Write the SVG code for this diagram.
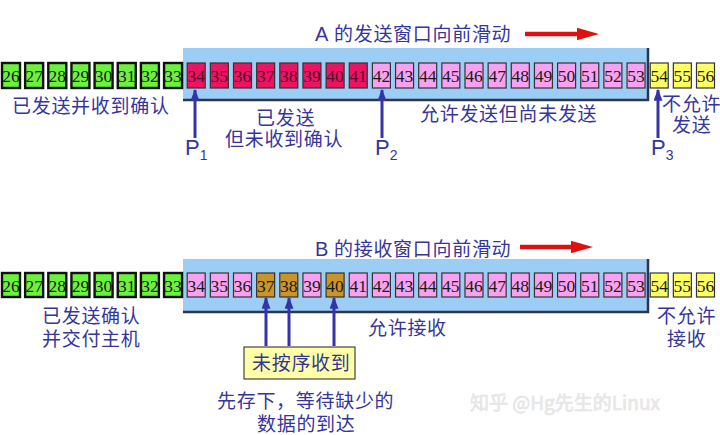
<svg xmlns="http://www.w3.org/2000/svg" width="720" height="435" viewBox="0 0 720 435">
<style>
.cjk{font-family:"Noto Sans CJK SC","Liberation Sans",sans-serif;font-size:19px;fill:#36369a;letter-spacing:0.7px}
.lat{font-family:"Liberation Sans","Noto Sans",sans-serif;fill:#36369a}
.num{font-family:"Liberation Serif",serif;font-size:17.5px;fill:#1a1a1a;text-anchor:middle}
.g rect{fill:#6cf23c;stroke:#111;stroke-width:2.4}
.r rect{fill:#ea1462;stroke:#333;stroke-width:1.2}
.r text{fill:#5a0a2a}
.p rect{fill:#f7a2f0;stroke:#333;stroke-width:1.2}
.y rect{fill:#ffff66;stroke:#333;stroke-width:1.2}
.b rect{fill:#c9952b;stroke:#333;stroke-width:1.2}
.win{fill:#9ccdf5}
.shadow{fill:none;stroke:#2a3550;stroke-width:2.5}
.ptr{stroke:#3434a8;stroke-width:3;fill:none}
.red{stroke:#e01010;stroke-width:4.5;fill:none}
</style>
<defs>
<marker id="ah" viewBox="0 0 10 10" refX="9" refY="5" markerWidth="4" markerHeight="3" orient="auto" markerUnits="strokeWidth" preserveAspectRatio="none"><path d="M0,0 L10,5 L0,10 z" fill="#3434a8"/></marker>
<marker id="ahr" viewBox="0 0 10 10" refX="1" refY="5" markerWidth="5" markerHeight="2.8" orient="auto" markerUnits="strokeWidth" preserveAspectRatio="none"><path d="M0,0 L10,5 L0,10 z" fill="#e01010"/></marker>
</defs>
<rect width="720" height="435" fill="#ffffff"/>

<!-- ===== Top: sender window ===== -->
<g id="windowA">
<rect class="win" x="183" y="48" width="465" height="52"/>
<path class="shadow" d="M648,48 V100 H183"/>
</g>
<g id="titleA">
<text class="lat" x="315" y="41" font-size="20">A</text>
<text class="cjk" x="334" y="41">的发送窗口向前滑动</text>
</g>

<g id="rowA">
<g id="a26" class="g"><rect x="2" y="63" width="18" height="25"/><text class="num" x="11" y="81.5">26</text></g>
<g id="a27" class="g"><rect x="25.15" y="63" width="18" height="25"/><text class="num" x="34.15" y="81.5">27</text></g>
<g id="a28" class="g"><rect x="48.3" y="63" width="18" height="25"/><text class="num" x="57.3" y="81.5">28</text></g>
<g id="a29" class="g"><rect x="71.45" y="63" width="18" height="25"/><text class="num" x="80.45" y="81.5">29</text></g>
<g id="a30" class="g"><rect x="94.6" y="63" width="18" height="25"/><text class="num" x="103.6" y="81.5">30</text></g>
<g id="a31" class="g"><rect x="117.75" y="63" width="18" height="25"/><text class="num" x="126.75" y="81.5">31</text></g>
<g id="a32" class="g"><rect x="140.9" y="63" width="18" height="25"/><text class="num" x="149.9" y="81.5">32</text></g>
<g id="a33" class="g"><rect x="164.05" y="63" width="18" height="25"/><text class="num" x="173.05" y="81.5">33</text></g>
<g id="a34" class="r"><rect x="187.2" y="63" width="18" height="25"/><text class="num" x="196.2" y="81.5">34</text></g>
<g id="a35" class="r"><rect x="210.35" y="63" width="18" height="25"/><text class="num" x="219.35" y="81.5">35</text></g>
<g id="a36" class="r"><rect x="233.5" y="63" width="18" height="25"/><text class="num" x="242.5" y="81.5">36</text></g>
<g id="a37" class="r"><rect x="256.65" y="63" width="18" height="25"/><text class="num" x="265.65" y="81.5">37</text></g>
<g id="a38" class="r"><rect x="279.8" y="63" width="18" height="25"/><text class="num" x="288.8" y="81.5">38</text></g>
<g id="a39" class="r"><rect x="302.95" y="63" width="18" height="25"/><text class="num" x="311.95" y="81.5">39</text></g>
<g id="a40" class="r"><rect x="326.1" y="63" width="18" height="25"/><text class="num" x="335.1" y="81.5">40</text></g>
<g id="a41" class="r"><rect x="349.25" y="63" width="18" height="25"/><text class="num" x="358.25" y="81.5">41</text></g>
<g id="a42" class="p"><rect x="372.4" y="63" width="18" height="25"/><text class="num" x="381.4" y="81.5">42</text></g>
<g id="a43" class="p"><rect x="395.55" y="63" width="18" height="25"/><text class="num" x="404.55" y="81.5">43</text></g>
<g id="a44" class="p"><rect x="418.7" y="63" width="18" height="25"/><text class="num" x="427.7" y="81.5">44</text></g>
<g id="a45" class="p"><rect x="441.85" y="63" width="18" height="25"/><text class="num" x="450.85" y="81.5">45</text></g>
<g id="a46" class="p"><rect x="465" y="63" width="18" height="25"/><text class="num" x="474" y="81.5">46</text></g>
<g id="a47" class="p"><rect x="488.15" y="63" width="18" height="25"/><text class="num" x="497.15" y="81.5">47</text></g>
<g id="a48" class="p"><rect x="511.3" y="63" width="18" height="25"/><text class="num" x="520.3" y="81.5">48</text></g>
<g id="a49" class="p"><rect x="534.45" y="63" width="18" height="25"/><text class="num" x="543.45" y="81.5">49</text></g>
<g id="a50" class="p"><rect x="557.6" y="63" width="18" height="25"/><text class="num" x="566.6" y="81.5">50</text></g>
<g id="a51" class="p"><rect x="580.75" y="63" width="18" height="25"/><text class="num" x="589.75" y="81.5">51</text></g>
<g id="a52" class="p"><rect x="603.9" y="63" width="18" height="25"/><text class="num" x="612.9" y="81.5">52</text></g>
<g id="a53" class="p"><rect x="627.05" y="63" width="18" height="25"/><text class="num" x="636.05" y="81.5">53</text></g>
<g id="a54" class="y"><rect x="650.2" y="63" width="18" height="25"/><text class="num" x="659.2" y="81.5">54</text></g>
<g id="a55" class="y"><rect x="673.35" y="63" width="18" height="25"/><text class="num" x="682.35" y="81.5">55</text></g>
<g id="a56" class="y"><rect x="696.5" y="63" width="18" height="25"/><text class="num" x="705.5" y="81.5">56</text></g>
</g>

<g id="labelsA">
<text class="cjk" x="12" y="113">已发送并收到确认</text>
<text class="cjk"><tspan x="256" y="125">已发送</tspan><tspan x="225" y="146">但未收到确认</tspan></text>
<text class="cjk" x="420" y="121">允许发送但尚未发送</text>
<text class="cjk"><tspan x="662" y="111">不允许</tspan><tspan x="672" y="132">发送</tspan></text>
</g>
<g id="P1"><text class="lat" x="185" y="155" font-size="22">P<tspan font-size="14" dy="5">1</tspan></text></g>
<g id="P2"><text class="lat" x="375" y="155" font-size="22">P<tspan font-size="14" dy="5">2</tspan></text></g>
<g id="P3"><text class="lat" x="651" y="155" font-size="22">P<tspan font-size="14" dy="5">3</tspan></text></g>

<!-- ===== Bottom: receiver window ===== -->
<g id="windowB">
<rect class="win" x="183" y="259" width="465" height="53"/>
<path class="shadow" d="M648,259 V312 H183"/>
</g>
<g id="titleB">
<text class="lat" x="315" y="256" font-size="20">B</text>
<text class="cjk" x="334" y="256">的接收窗口向前滑动</text>
</g>

<g id="rowB">
<g id="b26" class="g"><rect x="2" y="273" width="18" height="24"/><text class="num" x="11" y="291.5">26</text></g>
<g id="b27" class="g"><rect x="25.15" y="273" width="18" height="24"/><text class="num" x="34.15" y="291.5">27</text></g>
<g id="b28" class="g"><rect x="48.3" y="273" width="18" height="24"/><text class="num" x="57.3" y="291.5">28</text></g>
<g id="b29" class="g"><rect x="71.45" y="273" width="18" height="24"/><text class="num" x="80.45" y="291.5">29</text></g>
<g id="b30" class="g"><rect x="94.6" y="273" width="18" height="24"/><text class="num" x="103.6" y="291.5">30</text></g>
<g id="b31" class="g"><rect x="117.75" y="273" width="18" height="24"/><text class="num" x="126.75" y="291.5">31</text></g>
<g id="b32" class="g"><rect x="140.9" y="273" width="18" height="24"/><text class="num" x="149.9" y="291.5">32</text></g>
<g id="b33" class="g"><rect x="164.05" y="273" width="18" height="24"/><text class="num" x="173.05" y="291.5">33</text></g>
<g id="b34" class="p"><rect x="187.2" y="273" width="18" height="24"/><text class="num" x="196.2" y="291.5">34</text></g>
<g id="b35" class="p"><rect x="210.35" y="273" width="18" height="24"/><text class="num" x="219.35" y="291.5">35</text></g>
<g id="b36" class="p"><rect x="233.5" y="273" width="18" height="24"/><text class="num" x="242.5" y="291.5">36</text></g>
<g id="b37" class="b"><rect x="256.65" y="273" width="18" height="24"/><text class="num" x="265.65" y="291.5">37</text></g>
<g id="b38" class="b"><rect x="279.8" y="273" width="18" height="24"/><text class="num" x="288.8" y="291.5">38</text></g>
<g id="b39" class="p"><rect x="302.95" y="273" width="18" height="24"/><text class="num" x="311.95" y="291.5">39</text></g>
<g id="b40" class="b"><rect x="326.1" y="273" width="18" height="24"/><text class="num" x="335.1" y="291.5">40</text></g>
<g id="b41" class="p"><rect x="349.25" y="273" width="18" height="24"/><text class="num" x="358.25" y="291.5">41</text></g>
<g id="b42" class="p"><rect x="372.4" y="273" width="18" height="24"/><text class="num" x="381.4" y="291.5">42</text></g>
<g id="b43" class="p"><rect x="395.55" y="273" width="18" height="24"/><text class="num" x="404.55" y="291.5">43</text></g>
<g id="b44" class="p"><rect x="418.7" y="273" width="18" height="24"/><text class="num" x="427.7" y="291.5">44</text></g>
<g id="b45" class="p"><rect x="441.85" y="273" width="18" height="24"/><text class="num" x="450.85" y="291.5">45</text></g>
<g id="b46" class="p"><rect x="465" y="273" width="18" height="24"/><text class="num" x="474" y="291.5">46</text></g>
<g id="b47" class="p"><rect x="488.15" y="273" width="18" height="24"/><text class="num" x="497.15" y="291.5">47</text></g>
<g id="b48" class="p"><rect x="511.3" y="273" width="18" height="24"/><text class="num" x="520.3" y="291.5">48</text></g>
<g id="b49" class="p"><rect x="534.45" y="273" width="18" height="24"/><text class="num" x="543.45" y="291.5">49</text></g>
<g id="b50" class="p"><rect x="557.6" y="273" width="18" height="24"/><text class="num" x="566.6" y="291.5">50</text></g>
<g id="b51" class="p"><rect x="580.75" y="273" width="18" height="24"/><text class="num" x="589.75" y="291.5">51</text></g>
<g id="b52" class="p"><rect x="603.9" y="273" width="18" height="24"/><text class="num" x="612.9" y="291.5">52</text></g>
<g id="b53" class="p"><rect x="627.05" y="273" width="18" height="24"/><text class="num" x="636.05" y="291.5">53</text></g>
<g id="b54" class="y"><rect x="650.2" y="273" width="18" height="24"/><text class="num" x="659.2" y="291.5">54</text></g>
<g id="b55" class="y"><rect x="673.35" y="273" width="18" height="24"/><text class="num" x="682.35" y="291.5">55</text></g>
<g id="b56" class="y"><rect x="696.5" y="273" width="18" height="24"/><text class="num" x="705.5" y="291.5">56</text></g>
</g>

<g id="outOfOrderBox">
<rect x="244" y="347" width="111" height="32" fill="#ffffa8" stroke="#444" stroke-width="1.2"/>
<text class="cjk" x="252" y="370">未按序收到</text>
</g>

<g id="labelsB">
<text class="cjk"><tspan x="42" y="323">已发送确认</tspan><tspan x="42" y="346">并交付主机</tspan></text>
<text class="cjk" x="368" y="335">允许接收</text>
<text class="cjk"><tspan x="657" y="323">不允许</tspan><tspan x="667" y="346">接收</tspan></text>
<text class="cjk"><tspan x="217" y="408">先存下，等待缺少的</tspan><tspan x="257" y="431">数据的到达</tspan></text>
</g>

<g id="connectors">
<line class="red" x1="525" y1="34" x2="579" y2="34" marker-end="url(#ahr)"/>
<line class="red" x1="520" y1="247" x2="573" y2="247" marker-end="url(#ahr)"/>
<line class="ptr" x1="195" y1="138" x2="195" y2="90" marker-end="url(#ah)"/>
<line class="ptr" x1="382" y1="138" x2="382" y2="90" marker-end="url(#ah)"/>
<line class="ptr" x1="658" y1="138" x2="658" y2="90" marker-end="url(#ah)"/>
<line class="ptr" x1="266" y1="346" x2="266" y2="298" marker-end="url(#ah)"/>
<line class="ptr" x1="289" y1="346" x2="289" y2="298" marker-end="url(#ah)"/>
<line class="ptr" x1="334" y1="346" x2="334" y2="298" marker-end="url(#ah)"/>
</g>

<g id="watermark">
<text x="470" y="410" font-family="Noto Sans CJK SC,Liberation Sans,sans-serif" font-size="19" fill="#ececec" stroke="#e0e0e0" stroke-width="0.5">知乎 @Hg先生的Linux</text>
</g>
</svg>
